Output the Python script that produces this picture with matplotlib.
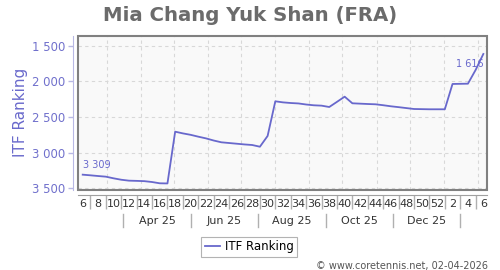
import matplotlib
matplotlib.use("Agg")
import matplotlib.pyplot as plt
import matplotlib.dates as mdates
from matplotlib.patches import Rectangle
from matplotlib.lines import Line2D
from matplotlib.ticker import FuncFormatter, FixedLocator
import numpy as np
import pandas as pd

# ---- data ----
start_date = "2025-02-07"
ranking = [3309, 3318, 3328, 3337, 3360, 3380, 3393, 3396, 3400, 3412,
           3430, 3432, 2706, 2730, 2750, 2776, 2800, 2830, 2855, 2865,
           2875, 2885, 2893, 2917, 2766, 2280, 2295, 2304, 2310, 2325,
           2336, 2341, 2360, 2288, 2215, 2308, 2313, 2318, 2322, 2335,
           2350, 2362, 2375, 2388, 2390, 2392, 2392, 2392, 2037, 2035,
           2033, 1840, 1616]
y_ticks = [1500, 2000, 2500, 3000, 3500]
month_labels = ["Apr 25", "Jun 25", "Aug 25", "Oct 25", "Dec 25"]
month_separators = ["2025-03-16", "2025-05-16", "2025-07-16", "2025-09-16",
                    "2025-11-16", "2026-01-16"]
title = "Mia Chang Yuk Shan (FRA)"
series_name = "ITF Ranking"
credit = "\u00a9 www.coretennis.net, 02-04-2026"

dates = pd.date_range(start_date, periods=len(ranking), freq="7D")
weeks = [d.isocalendar()[1] for d in dates]

LINE = "#6868cc"
W, H = 500, 270
fig = plt.figure(figsize=(5, 2.7), dpi=100)
fig.patch.set_facecolor("white")

x0, x1, yt, yb = 78.3, 487.3, 35.7, 190.0
ax = fig.add_axes([x0 / W, 1 - yb / H, (x1 - x0) / W, (yb - yt) / H])
ax.set_facecolor("#f9f9f9")

xd = mdates.date2num(dates)
ax.plot(xd, ranking, color=LINE, lw=1.3, zorder=3, solid_joinstyle="round")

ax.set_xlim(xd[0] - 4, xd[-1] + 3.6)
ax.set_ylim(3524, 1360)

def fmt(v, pos=None):
    return f"{int(round(v)):,}".replace(",", " ")

ax.yaxis.set_major_locator(FixedLocator(y_ticks))
ax.yaxis.set_major_formatter(FuncFormatter(fmt))
ax.tick_params(axis="y", colors="#b8b8e4", labelcolor="#7070cc", labelsize=8.4,
               length=3.5, width=1, pad=2.5)

# grid: horizontal at ticks, vertical at month starts
for v in y_ticks:
    ax.axhline(v, color="#d8d8d8", lw=0.8, ls=(0, (3, 3)), zorder=1)
month_starts = pd.date_range("2025-03-01", "2026-02-01", freq="MS")
for d in month_starts:
    ax.axvline(mdates.date2num(d), color="#d8d8d8", lw=0.8, ls=(0, (3, 3)), zorder=1)

# x ticks: labels every 2 weeks, separators at odd weeks
ax.set_xticks(xd[::2])
ax.set_xticklabels([str(w) for w in weeks[::2]])
ax.set_xticks(xd[1::2], minor=True)
ax.tick_params(axis="x", which="major", length=0, pad=3, labelsize=8, labelcolor="#333333")
ax.tick_params(axis="x", which="minor", length=10, width=1, color="#b0b0b0")

for s in ["top", "right"]:
    ax.spines[s].set_visible(False)
ax.spines["left"].set_position(("outward", 3.6))
ax.spines["left"].set_color("#b8b8e4")
ax.spines["bottom"].set_position(("outward", 3.6))
ax.spines["bottom"].set_color("#a0a0a0")

# plot frame
ax.add_patch(Rectangle((0, 0), 1, 1, transform=ax.transAxes, fill=False,
                       edgecolor="#808080", lw=1.5, zorder=5, clip_on=False))

# month row
trans = ax.get_xaxis_transform()
sep_x = [mdates.date2num(pd.Timestamp(s)) for s in month_separators]
y_row = -(221 - yb) / (yb - yt)
y_s0 = -(214 - yb) / (yb - yt)
y_s1 = -(227 - yb) / (yb - yt)
for sx in sep_x:
    ax.add_line(Line2D([sx, sx], [y_s0, y_s1], transform=trans, color="#b0b0b0",
                       lw=1, clip_on=False))
for i, lab in enumerate(month_labels):
    cx = (sep_x[i] + sep_x[i + 1]) / 2
    ax.text(cx, y_row, lab, transform=trans, ha="center", va="center",
            fontsize=8, color="#333333", clip_on=False)

# data labels
ax.annotate(fmt(ranking[0]), (xd[0], ranking[0]), xytext=(0, 3.5),
            textcoords="offset points", ha="left", va="bottom",
            fontsize=7, color=LINE, zorder=6)
ax.annotate(fmt(ranking[-1]), (xd[-1], ranking[-1]), xytext=(0, -3.5),
            textcoords="offset points", ha="right", va="top",
            fontsize=7, color=LINE, zorder=6)

ax.set_ylabel(series_name, fontsize=11, color="#6a6acc")
ax.yaxis.label.set_va("center")
ax.yaxis.set_label_coords(-(x0 - 20.7) / (x1 - x0), 0.5)

fig.text(0.5, 1 - 15.5 / H, title, ha="center", va="center", fontsize=14.2,
         fontweight="bold", color="#6b6b6b")

handle = Line2D([], [], color=LINE, lw=1.3)
leg = fig.legend([handle], [series_name], loc="center",
                 bbox_to_anchor=(249 / W, 1 - 246.7 / H), fontsize=8.5,
                 frameon=True, fancybox=False, edgecolor="#a0a0a0",
                 handlelength=1.3, handletextpad=0.4, borderpad=0.3,
                 borderaxespad=0)
leg.get_frame().set_linewidth(0.8)

fig.text(488 / W, 1 - 265.7 / H, credit, ha="right", va="center",
         fontsize=7, color="#555555")

fig.savefig("out.png", dpi=100)
